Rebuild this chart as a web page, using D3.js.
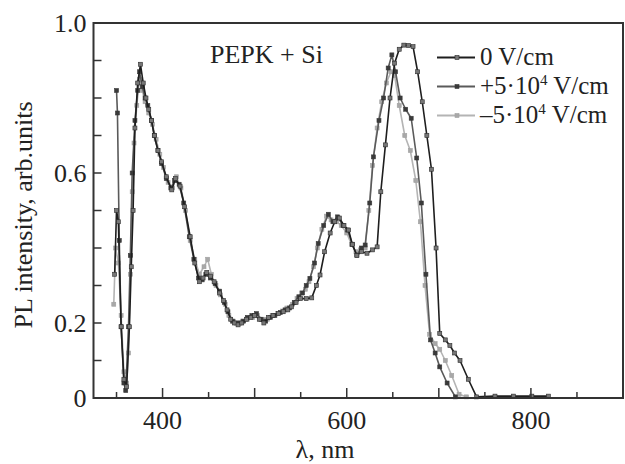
<!DOCTYPE html>
<html>
<head>
<meta charset="utf-8">
<script src="https://d3js.org/d3.v7.min.js"></script>
<style>
  body { margin: 0; background: #fff; }
  svg { display: block; }
  text { font-family: "Liberation Serif", "Times New Roman", serif; fill: #222; }
</style>
</head>
<body>
<div id="chart"></div>
<script>
// 0 V/cm
const lam0 = [348, 350, 352, 355, 358, 361, 364, 366, 368, 370, 373, 376, 379, 382, 385, 388, 391, 395, 399, 404,
  410, 414, 419, 424, 430, 435, 440, 444, 448, 452, 456, 462, 466, 470, 474, 478, 482, 486, 491, 496,
  500, 505, 510, 515, 520, 526, 531, 536, 540, 545, 550, 556, 562, 567, 571, 576, 582, 587, 592, 597,
  602, 606, 611, 616, 622, 628, 633, 637, 642, 647, 652, 657, 662, 667, 672, 677, 682, 687, 692, 697,
  701, 707, 712, 717, 723, 732, 741, 761, 781, 801, 819];
const pl0 = [0.33, 0.50, 0.47, 0.19, 0.05, 0.03, 0.19, 0.35, 0.50, 0.72, 0.84, 0.89, 0.84, 0.80, 0.77, 0.74, 0.70, 0.66, 0.63, 0.59,
  0.555, 0.585, 0.565, 0.51, 0.43, 0.36, 0.31, 0.32, 0.335, 0.325, 0.31, 0.28, 0.26, 0.235, 0.21, 0.20, 0.195, 0.20, 0.21, 0.215,
  0.22, 0.21, 0.20, 0.215, 0.22, 0.225, 0.23, 0.235, 0.243, 0.255, 0.265, 0.265, 0.267, 0.30, 0.328, 0.39, 0.44, 0.47, 0.48, 0.46,
  0.448, 0.41, 0.38, 0.39, 0.386, 0.395, 0.403, 0.55, 0.675, 0.80, 0.893, 0.93, 0.941, 0.94, 0.937, 0.87, 0.79, 0.70, 0.61, 0.40,
  0.172, 0.155, 0.14, 0.12, 0.10, 0.05, 0.003, 0.005, 0.005, 0.005, 0.005];

// +5*10^4 V/cm
const lamP = [350, 351, 353, 355, 358, 360, 363, 365, 367, 370, 373, 375, 378, 381, 384, 388, 391, 395, 399, 404,
  409, 413, 418, 423, 429, 434, 439, 443, 447, 452, 457, 462, 467, 471, 476, 480, 484, 488, 492, 497,
  502, 507, 512, 517, 522, 528, 533, 538, 543, 548, 552, 556, 560, 565, 569, 575, 580, 585, 590, 596,
  601, 606, 611, 616, 620, 625, 629, 635, 640, 645, 649, 653, 658, 664, 670, 676, 681, 686, 691, 696,
  701, 709, 718];
const plP = [0.82, 0.76, 0.42, 0.19, 0.04, 0.02, 0.19, 0.38, 0.60, 0.74, 0.82, 0.87, 0.83, 0.80, 0.78, 0.74, 0.70, 0.66, 0.625, 0.585,
  0.56, 0.58, 0.57, 0.52, 0.43, 0.37, 0.32, 0.315, 0.33, 0.32, 0.305, 0.285, 0.255, 0.23, 0.205, 0.20, 0.20, 0.205, 0.215, 0.22,
  0.225, 0.21, 0.205, 0.215, 0.22, 0.228, 0.235, 0.24, 0.255, 0.27, 0.28, 0.30, 0.319, 0.36, 0.412, 0.46, 0.49, 0.47, 0.483, 0.46,
  0.448, 0.41, 0.381, 0.40, 0.408, 0.52, 0.643, 0.74, 0.80, 0.88, 0.915, 0.87, 0.80, 0.77, 0.746, 0.64, 0.52, 0.33, 0.155, 0.12,
  0.083, 0.04, 0.003];

// -5*10^4 V/cm
const lamM = [347, 349, 352, 355, 358, 361, 363, 365, 367, 369, 372, 375, 378, 381, 385, 389, 393, 397, 401, 406,
  411, 415, 420, 425, 430, 435, 440, 445, 449, 453, 458, 463, 468, 472, 477, 482, 487, 492, 498, 503,
  509, 514, 519, 525, 530, 535, 541, 546, 551, 555, 559, 564, 568, 573, 578, 583, 589, 594, 600, 605,
  610, 615, 620, 624, 628, 633, 638, 643, 648, 652, 657, 663, 669, 675, 680, 685, 690, 696, 701, 707,
  714, 722, 730];
const plM = [0.25, 0.40, 0.36, 0.22, 0.07, 0.04, 0.12, 0.33, 0.55, 0.68, 0.78, 0.85, 0.82, 0.79, 0.76, 0.73, 0.69, 0.65, 0.615, 0.575,
  0.56, 0.59, 0.56, 0.50, 0.42, 0.37, 0.33, 0.35, 0.37, 0.33, 0.30, 0.275, 0.25, 0.22, 0.205, 0.20, 0.205, 0.21, 0.215, 0.22,
  0.21, 0.21, 0.22, 0.225, 0.232, 0.24, 0.25, 0.265, 0.28, 0.29, 0.31, 0.35, 0.40, 0.45, 0.485, 0.475, 0.47, 0.46, 0.44, 0.41,
  0.39, 0.395, 0.40, 0.50, 0.62, 0.72, 0.79, 0.84, 0.87, 0.86, 0.78, 0.70, 0.66, 0.58, 0.47, 0.30, 0.17, 0.145, 0.13, 0.10,
  0.06, 0.01, 0.003];

const xTicks = [350, 400, 450, 500, 550, 600, 650, 700, 750, 800, 850];
const xLabels = [400, 600, 800];
const yTicks = [0, 0.1, 0.2, 0.3, 0.4, 0.5, 0.6, 0.7, 0.8, 0.9, 1.0];
const yLabels = [0, 0.2, 0.6, 1.0];

const series = [
  { name: "0 V/cm", lam: lam0, pl: pl0, line: "#1e1e1e", fill: "#777", edge: "#2a2a2a" },
  { name: "+5·10|4| V/cm", lam: lamP, pl: plP, line: "#5a5a5a", fill: "#3a3a3a", edge: "#3a3a3a" },
  { name: "–5·10|4| V/cm", lam: lamM, pl: plM, line: "#b4b4b4", fill: "#a8a8a8", edge: "#a0a0a0" }
];

const W = 625, H = 464;
const plotL = 93.5, plotR = 623, plotT = 23, plotB = 398;

const svg = d3.select("#chart").append("svg")
  .attr("width", W)
  .attr("height", H);

const x = d3.scaleLinear().domain([325, 900]).range([plotL, plotR]);
const y = d3.scaleLinear().domain([0, 1]).range([plotB, plotT]);

// draw lightest series first so darker ones sit on top
const drawOrder = [2, 1, 0];
const line = d3.line().x(d => x(d[0])).y(d => y(d[1]));

drawOrder.forEach(i => {
  const s = series[i];
  const pts = s.lam.map((l, k) => [l, s.pl[k]]);
  const g = svg.append("g");
  g.append("path")
    .datum(pts)
    .attr("d", line)
    .attr("fill", "none")
    .attr("stroke", s.line)
    .attr("stroke-width", 1.6)
    .attr("stroke-linejoin", "round");
  g.selectAll("rect")
    .data(pts)
    .enter()
    .append("rect")
    .attr("x", d => x(d[0]) - 2)
    .attr("y", d => y(d[1]) - 2)
    .attr("width", 4)
    .attr("height", 4)
    .attr("fill", s.fill)
    .attr("stroke", s.edge)
    .attr("stroke-width", 0.6);
});

// frame
svg.append("rect")
  .attr("x", plotL)
  .attr("y", plotT)
  .attr("width", plotR - plotL)
  .attr("height", plotB - plotT)
  .attr("fill", "none")
  .attr("stroke", "#333")
  .attr("stroke-width", 2);

// x ticks (inward), long ones at every 100 nm
svg.append("g").selectAll("line")
  .data(xTicks)
  .enter()
  .append("line")
  .attr("x1", d => x(d))
  .attr("x2", d => x(d))
  .attr("y1", plotB)
  .attr("y2", d => plotB - (d % 100 === 0 ? 10 : 6))
  .attr("stroke", "#333")
  .attr("stroke-width", 1.5);

svg.append("g").selectAll("text")
  .data(xLabels)
  .enter()
  .append("text")
  .attr("x", d => x(d))
  .attr("y", 429)
  .attr("text-anchor", "middle")
  .style("font-size", "26px")
  .text(d => d);

// y ticks (inward)
svg.append("g").selectAll("line")
  .data(yTicks)
  .enter()
  .append("line")
  .attr("x1", plotL)
  .attr("x2", plotL + 8)
  .attr("y1", d => y(d))
  .attr("y2", d => y(d))
  .attr("stroke", "#333")
  .attr("stroke-width", 1.5);

svg.append("g").selectAll("text")
  .data(yLabels)
  .enter()
  .append("text")
  .attr("x", plotL - 7)
  .attr("y", d => y(d) + 9)
  .attr("text-anchor", "end")
  .style("font-size", "26px")
  .text(d => d === 0 ? "0" : d.toFixed(1));

// axis titles
svg.append("text")
  .attr("x", 325)
  .attr("y", 458)
  .attr("text-anchor", "middle")
  .style("font-size", "26px")
  .text("λ, nm");

svg.append("text")
  .attr("transform", "translate(32,215) rotate(-90)")
  .attr("text-anchor", "middle")
  .style("font-size", "26px")
  .text("PL intensity, arb.units");

// sample label
svg.append("text")
  .attr("x", 210)
  .attr("y", 63)
  .style("font-size", "26px")
  .text("PEPK + Si");

// legend
const leg = svg.append("g");
series.forEach((s, i) => {
  const ly = 57.5 + i * 29;
  leg.append("line")
    .attr("x1", 437).attr("x2", 475)
    .attr("y1", ly).attr("y2", ly)
    .attr("stroke", s.line)
    .attr("stroke-width", 2);
  leg.append("rect")
    .attr("x", 455).attr("y", ly - 2)
    .attr("width", 4).attr("height", 4)
    .attr("fill", s.fill)
    .attr("stroke", s.edge)
    .attr("stroke-width", 0.6);
  const parts = s.name.split("|");
  const t = leg.append("text")
    .attr("x", 480)
    .attr("y", ly + 7)
    .style("font-size", "25px");
  t.append("tspan").text(parts[0]);
  if (parts.length > 1) {
    t.append("tspan").attr("dy", -9).style("font-size", "15px").text(parts[1]);
    t.append("tspan").attr("dy", 9).text(parts[2]);
  }
});
</script>
</body>
</html>
